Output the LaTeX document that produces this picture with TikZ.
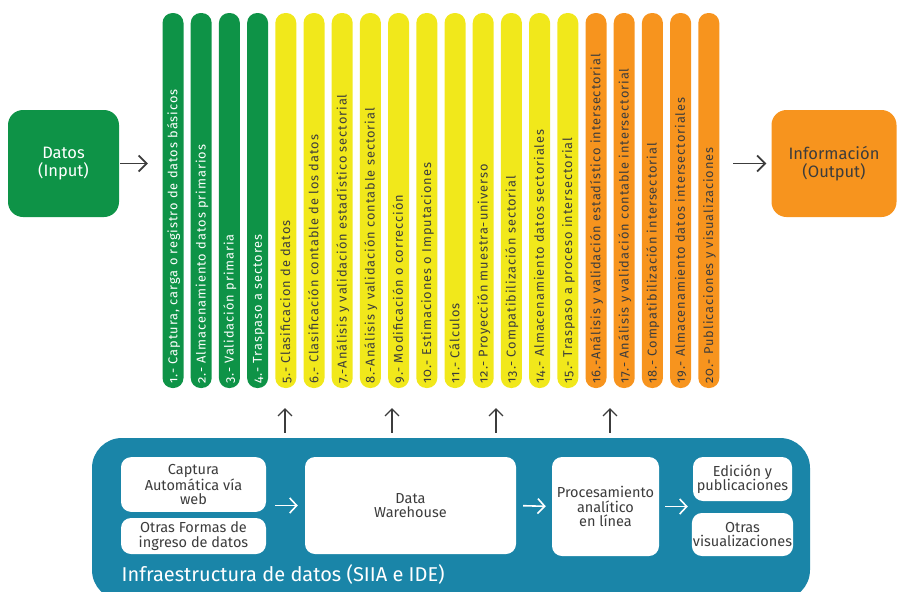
\documentclass[tikz,border=0pt]{standalone}
\usepackage{fontspec}
\setmainfont{Fira Sans}[Numbers=OldStyle]
\newfontfamily\barfont{Fira Sans}[LetterSpace=7.5,Numbers=OldStyle]
\usepackage{tikz}
\usetikzlibrary{positioning,arrows.meta}

\definecolor{verde}{HTML}{0E9347}
\definecolor{amarillo}{HTML}{F1E81B}
\definecolor{naranja}{HTML}{F7941E}
\definecolor{azul}{HTML}{1A85A8}
\definecolor{gris}{HTML}{3C3C3C}

\tikzset{
  barra/.style={rotate=90, minimum width=375pt, minimum height=21pt,
    text width=366pt, inner xsep=4.5pt, inner ysep=0pt, align=left,
    rounded corners=10pt, text height=8.6pt, text depth=0pt,
    font=\barfont\fontsize{12.8}{12.8}\selectfont},
  bverde/.style={barra, fill=verde, text=white},
  bamar/.style={barra, fill=amarillo, text=gris},
  bnar/.style={barra, fill=naranja, text=gris},
  extremo/.style={rounded corners=15pt, minimum height=107pt, align=center,
    font=\fontsize{16.5}{17.5}\selectfont},
  caja/.style={fill=white, text=gris, rounded corners=10pt, inner sep=1pt,
    align=center, font=\fontsize{14.5}{14.5}\selectfont},
  flecha/.style={draw=gris, line width=1.8pt, -{Straight Barb[length=8pt,width=16pt]}},
  subida/.style={draw=gris, line width=1.4pt, -{Straight Barb[length=7pt,width=14pt]}},
  fblanca/.style={draw=white, line width=1.6pt, -{Straight Barb[length=7pt,width=15pt]}}
}

\begin{document}
\begin{tikzpicture}[x=1pt,y=-1pt,node distance=28.2pt,on grid]
   \useasboundingbox (0,0) rectangle (898,592);

   \node[extremo,fill=verde,text=white,minimum width=111pt] (datos) at (63.5,163.5) {Datos\\(Input)};
   \node[extremo,fill=naranja,text=gris,minimum width=125pt] (info) at (834,163.5) {Información\\(Output)};

   \node[bverde] (p1) at (173,200.5) {1.- Captura, carga o registro de datos básicos};
   \node[bverde] (p2) [right=of p1] {2.- Almacenamiento datos primarios};
   \node[bverde] (p3) [right=of p2] {3.- Validación primaria};
   \node[bverde] (p4) [right=of p3] {4.- Traspaso a sectores};
   \node[bamar] (p5) [right=of p4] {5.- Clasificacion de datos};
   \node[bamar] (p6) [right=of p5] {6.- Clasificación contable de los datos};
   \node[bamar] (p7) [right=of p6] {7.-Análisis y validación estadístico sectorial};
   \node[bamar] (p8) [right=of p7] {8.-Análisis y validación contable sectorial};
   \node[bamar] (p9) [right=of p8] {9.- Modificación o corrección};
   \node[bamar] (p10) [right=of p9] {10.- Estimaciones o Imputaciones};
   \node[bamar] (p11) [right=of p10] {11.- Cálculos};
   \node[bamar] (p12) [right=of p11] {12.- Proyección muestra-universo};
   \node[bamar] (p13) [right=of p12] {13.- Compatibilización sectorial};
   \node[bamar] (p14) [right=of p13] {14.- Almacenamiento datos sectoriales};
   \node[bamar] (p15) [right=of p14] {15.- Traspaso a proceso intersectorial};
   \node[bnar] (p16) [right=of p15] {16.-Análisis y validación estadístico intersectorial};
   \node[bnar] (p17) [right=of p16] {17.- Análisis y validación contable intersectorial};
   \node[bnar] (p18) [right=of p17] {18.- Compatibilización intersectorial};
   \node[bnar] (p19) [right=of p18] {19.- Almacenamiento datos intersectoriales};
   \node[bnar] (p20) [right=of p19] {20.- Publicaciones y visualizaciones};

   \node[fill=azul,rounded corners=30pt,minimum width=718pt,minimum height=162pt] (infra) at (451,519) {};
   \node[anchor=base west,text=white,inner sep=0pt,font=\fontsize{20}{20}\selectfont] (infratxt) at (121.5,581.5) {Infraestructura de datos (SIIA e IDE)};

   \node[caja,minimum width=145pt,minimum height=54.7pt] (captura) at (193.5,484.5) {Captura\\Automática vía\\web};
   \node[caja,minimum width=145pt,minimum height=36pt] (otras) at (193.5,536) {Otras Formas de\\ingreso de datos};
   \node[caja,minimum width=211pt,minimum height=97pt] (dw) at (410.5,505.5) {Data\\Warehouse};
   \node[caja,minimum width=107pt,minimum height=99pt] (proc) at (605.5,506.5) {Procesamiento\\analítico\\en línea};
   \node[caja,minimum width=99pt,minimum height=44pt] (edicion) at (742.5,479) {Edición y\\publicaciones};
   \node[caja,minimum width=99pt,minimum height=43pt] (otrasvis) at (742.5,534.5) {Otras\\visualizaciones};

   \coordinate (u1) at (285,408);
   \coordinate (u2) at (392,408);
   \coordinate (u3) at (496,408);
   \coordinate (u4) at (610,408);

   \path
    (datos.east) edge [flecha,shorten <=1pt,shorten >=14.5pt] (datos.east -| p1.north)
    (p20.south |- info.west) edge [flecha,shorten <=13.5pt,shorten >=5pt] (info.west);
   \path
    (u1 |- infra.north) edge [subida,shorten <=5pt] (u1)
    (u2 |- infra.north) edge [subida,shorten <=5pt] (u2)
    (u3 |- infra.north) edge [subida,shorten <=5pt] (u3)
    (u4 |- infra.north) edge [subida,shorten <=5pt] (u4);
   \path
    (captura.east |- dw.west) edge [fblanca,shorten <=9pt,shorten >=7pt] (dw.west)
    (dw.east) edge [fblanca,shorten <=7pt,shorten >=6pt] (proc.west)
    (proc.east) edge [fblanca,shorten <=6pt,shorten >=5pt] (proc.east -| edicion.west);
\end{tikzpicture}
\end{document}
